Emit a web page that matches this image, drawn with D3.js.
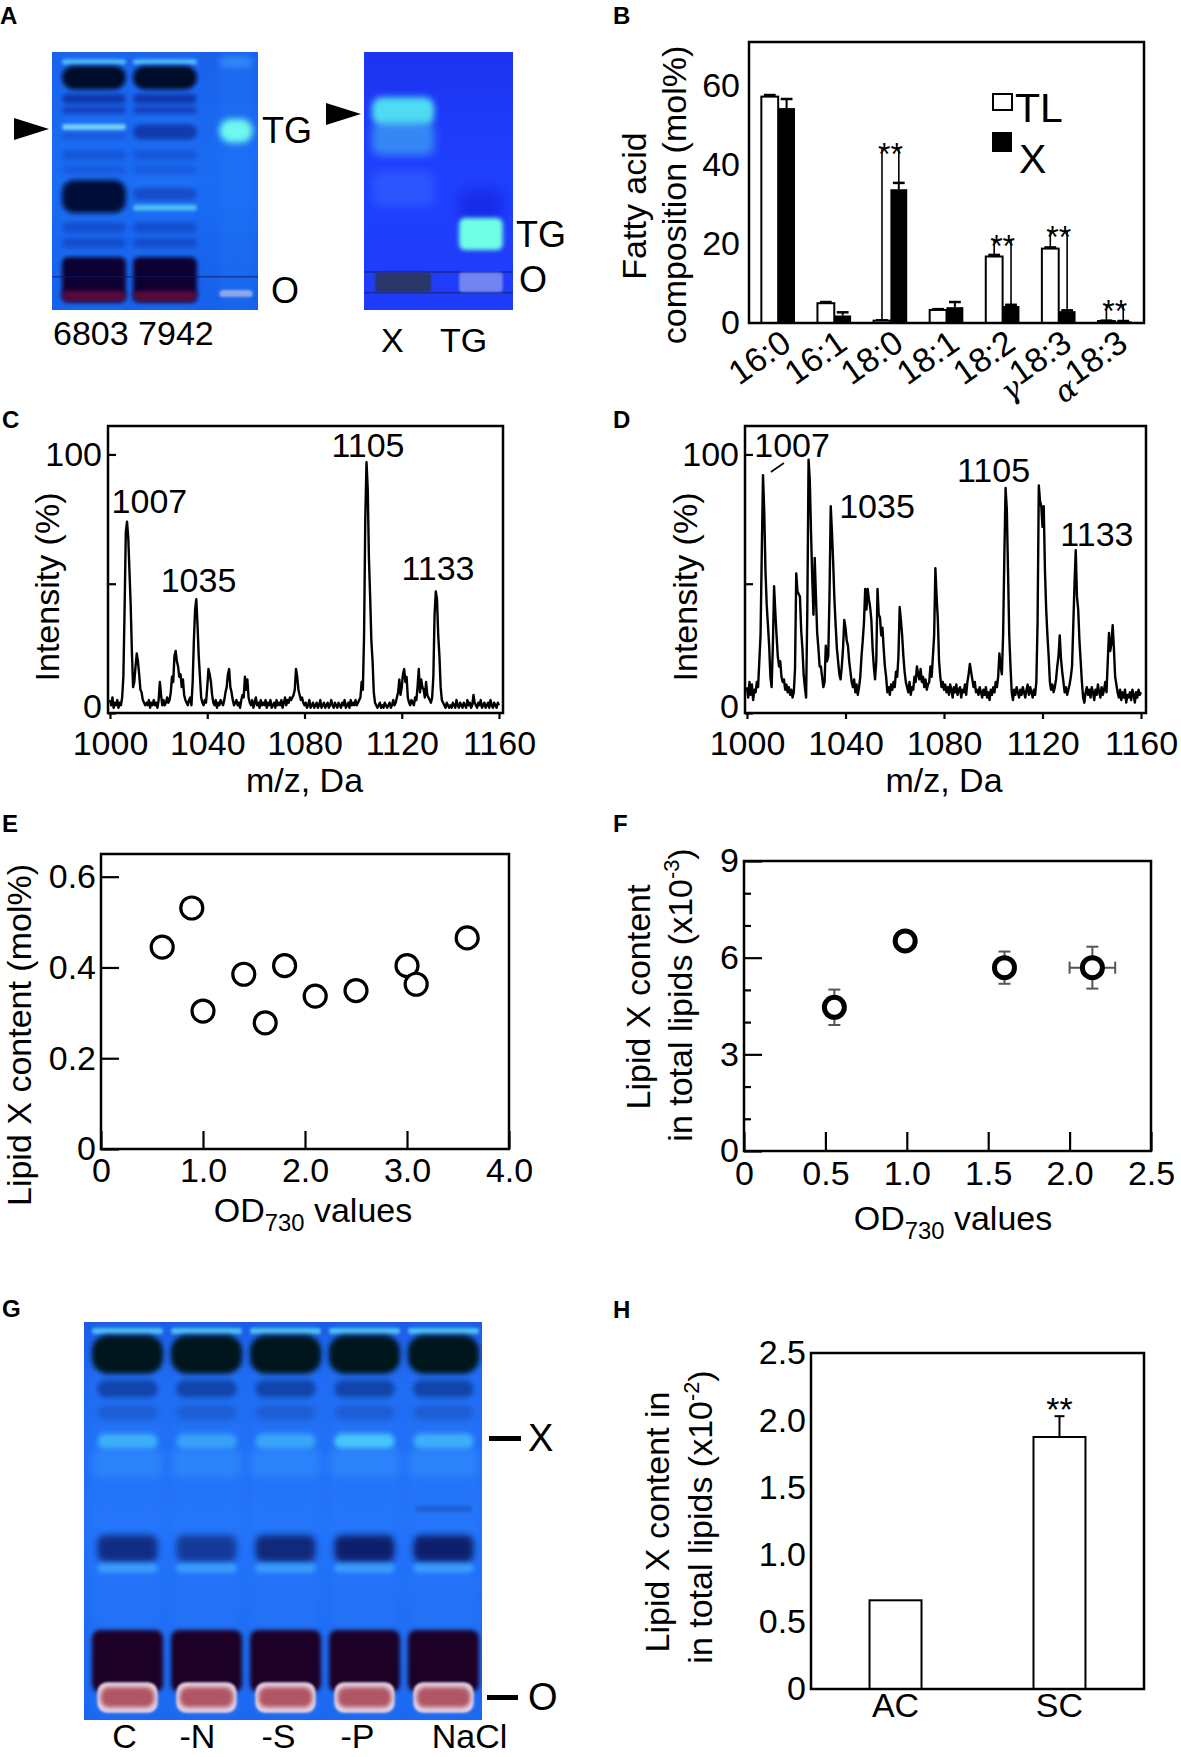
<!DOCTYPE html>
<html>
<head>
<meta charset="utf-8">
<script src="https://cdn.jsdelivr.net/npm/d3@7"></script>
<style>
  html, body { margin: 0; padding: 0; background: #fff; }
  svg text { font-family: "Liberation Sans", Arial, Helvetica, sans-serif; fill: #000; }
</style>
</head>
<body>
<svg id="fig" width="1181" height="1757"></svg>
<script>
// ---------- data ----------

// B: fatty acid composition (mol%)
const faClasses = ['16:0', '16:1', '18:0', '18:1', '18:2', 'γ18:3', 'α18:3'];
const faTL = [57.2, 5.0, 0.6, 3.3, 16.8, 18.8, 0.5];
const faTLerr = [0.4, 0.3, 0.1, 0.2, 0.4, 0.3, 0.1];
const faX = [54.3, 1.9, 33.8, 4.0, 4.3, 3.0, 0.4];
const faXerr = [2.3, 0.8, 1.6, 1.3, 0.3, 0.2, 0.1];
const faStarAt = [null, null, 44.5, null, 21.3, 23.5, 4.8];
const faYTicks = [0, 20, 40, 60];

// C, D: MALDI spectra, intensity (%) every 0.5 Da from 1000 to 1160
const mzStart = 1000, mzStep = 0.5;
const mzTicks = [1000, 1040, 1080, 1120, 1160];
const specC = [
  5,3,6,2,4,3,5,2,4,3, 6,14,40,70,74,68,55,42,24,10,
  12,18,23,20,15,9,8,5,4,3, 4,3,5,2,4,3,5,3,4,2,
  5,12,7,3,5,3,4,6,4,5, 8,14,12,22,24,20,18,14,15,10,
  13,7,5,4,3,5,6,3,12,28, 40,44,34,22,14,6,4,3,5,4,
  10,17,15,12,7,4,3,5,2,4, 3,5,4,3,5,8,10,15,17,10,
  8,5,3,4,5,3,4,2,5,7, 6,14,9,13,6,4,3,5,2,4,
  6,3,4,2,5,3,4,3,5,2, 4,3,5,2,3,4,2,5,3,4,
  3,5,2,4,6,3,5,4,6,5, 6,7,9,17,14,9,7,5,6,4,
  3,4,2,3,5,2,3,4,2,3, 4,2,3,5,2,3,4,2,3,4,
  2,3,5,3,2,4,3,2,4,3, 2,4,3,5,2,3,4,2,5,3,
  4,3,5,3,4,5,6,12,9,30, 75,97,87,60,45,28,20,8,4,3,
  2,3,4,2,3,2,4,3,2,3, 4,2,3,5,3,4,6,8,13,7,
  10,15,17,12,14,6,4,3,5,4, 3,6,5,10,17,8,13,10,9,6,
  12,7,6,5,4,6,14,38,47,44, 30,22,10,5,4,3,2,4,3,2,
  3,2,4,3,2,5,3,2,4,3, 2,4,3,2,5,3,4,2,3,7,
  4,3,2,4,3,5,2,3,4,2, 3,4,2,5,3,2,4,3,2,4,
  3
];
const specD = [
  10,6,12,7,11,5,9,8,12,10, 20,30,62,92,78,55,42,34,26,14,
  10,26,49,39,30,22,18,20,14,12, 13,9,11,8,10,7,9,6,8,17,
  54,47,46,45,32,25,15,10,6,40, 98,90,70,52,38,60,45,31,25,18,
  18,14,10,12,26,20,22,45,80,70, 58,44,34,25,20,15,13,18,25,36,
  33,28,26,20,16,12,10,13,8,11, 7,10,14,22,28,35,48,40,48,44,
  41,36,25,18,13,20,48,38,37,30, 33,25,18,14,8,10,7,11,9,12,
  10,16,14,22,41,36,30,22,16,12, 10,8,12,7,10,9,14,12,18,15,
  13,17,12,14,10,13,9,11,12,18, 14,22,30,56,45,36,20,14,10,12,
  9,11,8,10,7,11,9,6,10,8, 11,7,9,10,6,9,8,11,7,12,
  15,19,16,13,10,12,8,9,7,10, 8,6,9,7,10,6,8,5,9,7,
  10,8,12,10,14,23,18,15,30,60, 87,79,55,30,18,8,5,9,7,10,
  8,6,9,7,10,8,6,9,11,7, 10,8,6,9,7,12,35,88,82,80,
  72,80,55,40,30,22,12,9,11,8, 10,13,18,22,30,21,16,12,8,10,
  7,9,11,14,18,34,50,63,45,40, 28,20,12,6,4,8,10,7,9,6,
  10,8,5,9,7,11,8,6,10,7, 9,12,8,20,31,24,27,34,25,14,
  11,8,6,9,5,8,6,9,4,7, 6,8,5,9,7,4,8,6,9,7,
  8
];
// peak labels: text, label centre (m/z), label baseline (intensity)
const peakLabelsC = [['1007', 1016.2, 77.3], ['1035', 1036.4, 46.8], ['1105', 1106.1, 99.0], ['1133', 1134.9, 51.4]];
const peakLabelsD = [['1007', 1018.3, 99.0], ['1035', 1052.8, 75.4], ['1105', 1100.1, 89.3], ['1133', 1142.1, 64.6]];

// E: lipid X content vs OD730
const odE = [0.60, 0.89, 1.00, 1.40, 1.61, 1.80, 2.10, 2.50, 3.00, 3.09, 3.59];
const lipidE = [0.445, 0.531, 0.304, 0.385, 0.278, 0.404, 0.337, 0.349, 0.404, 0.363, 0.465];

// F: lipid X in total lipids (x10^-3) vs OD730
const odF = [0.555, 0.99, 1.60, 2.14];
const odFerr = [0, 0, 0, 0.14];
const lipidF = [4.46, 6.52, 5.69, 5.69];
const lipidFerr = [0.55, 0, 0.5, 0.65];

// G: stress conditions
const gelGLanes = ['C', '-N', '-S', '-P', 'NaCl'];

// H: air vs solid culture (x10^-2)
const cultures = ['AC', 'SC'];
const lipidH = [0.66, 1.875];
const lipidHerr = [0, 0.155];

// TLC plates: band rows given as fraction of plate height
const gelALanes = ['6803', '7942', 'TG'];
const gelAWidth = [1, 1, 0.52];
const gelABands = [
  { lanes: 'all', top: 0.0, bottom: 1.0, color: '#2b86ff', op: 0.16, blur: 5 },
  { lanes: [2], top: 0.02, bottom: 0.06, color: '#4aa8ff', op: 0.5, blur: 3 },
  { lanes: [0, 1], top: 0.028, bottom: 0.048, color: '#5fd4ff', op: 0.75, blur: 1.5 },
  { lanes: [0, 1], top: 0.054, bottom: 0.145, color: '#050a2c', op: 1, blur: 2, rx: 12 },
  { lanes: [0, 1], top: 0.163, bottom: 0.2, color: '#0a2a98', op: 0.8, blur: 2 },
  { lanes: [0, 1], top: 0.21, bottom: 0.24, color: '#0b32aa', op: 0.7, blur: 2 },
  { lanes: [0], top: 0.279, bottom: 0.302, color: '#80e2f2', op: 0.85, blur: 1.8 },
  { lanes: [0], top: 0.314, bottom: 0.34, color: '#1444c4', op: 0.5, blur: 2 },
  { lanes: [1], top: 0.28, bottom: 0.34, color: '#0a2a98', op: 0.75, blur: 2 },
  { lanes: [0, 1], top: 0.38, bottom: 0.42, color: '#0e3cc0', op: 0.5, blur: 2.5 },
  { lanes: [0, 1], top: 0.44, bottom: 0.475, color: '#0e3cc0', op: 0.4, blur: 2.5 },
  { lanes: [0], top: 0.496, bottom: 0.624, color: '#050a38', op: 1, blur: 2.5, rx: 12 },
  { lanes: [1], top: 0.527, bottom: 0.574, color: '#0c2aa0', op: 0.5, blur: 2 },
  { lanes: [1], top: 0.592, bottom: 0.615, color: '#5ad0f0', op: 0.8, blur: 1.8 },
  { lanes: [0, 1], top: 0.66, bottom: 0.7, color: '#0b30b0', op: 0.55, blur: 2.5 },
  { lanes: [0, 1], top: 0.72, bottom: 0.76, color: '#0b30b0', op: 0.55, blur: 2.5 },
  { lanes: [0, 1], top: 0.795, bottom: 0.97, color: '#080630', op: 1, blur: 2, rx: 6 },
  { lanes: [0, 1], top: 0.925, bottom: 0.965, color: '#6a1040', op: 0.8, blur: 2 },
  { lanes: [2], top: 0.26, bottom: 0.352, color: '#6ef8f0', op: 1, blur: 3, rx: 14 },
  { lanes: [2], top: 0.922, bottom: 0.95, color: '#a8b8e8', op: 0.8, blur: 1 },
  { lanes: [0], across: true, top: 0.868, bottom: 0.874, color: '#0a1a70', op: 0.6, blur: 0.5 }
];
const gelXLanes = ['X', 'TG'];
const gelXWidth = [1, 0.7];
const gelXBands = [
  { lanes: [0], top: 0.175, bottom: 0.285, color: '#4fdcf2', op: 1, blur: 3, rx: 10 },
  { lanes: [0], top: 0.27, bottom: 0.40, color: '#3fb0f2', op: 0.65, blur: 4 },
  { lanes: [0], top: 0.46, bottom: 0.6, color: '#3a70ff', op: 0.45, blur: 5 },
  { lanes: [1], top: 0.53, bottom: 0.66, color: '#1018d0', op: 0.45, blur: 6 },
  { lanes: [1], top: 0.643, bottom: 0.767, color: '#70ffe6', op: 1, blur: 2, rx: 6 },
  { lanes: [0], across: true, top: 0.85, bottom: 0.856, color: '#142078', op: 0.7, blur: 0.5 },
  { lanes: [0], across: true, top: 0.93, bottom: 0.936, color: '#142078', op: 0.7, blur: 0.5 },
  { lanes: [0], top: 0.855, bottom: 0.93, color: '#2a3468', op: 1, blur: 1, w: 0.9, rx: 3 },
  { lanes: [1], top: 0.855, bottom: 0.93, color: '#8c9cf0', op: 0.75, blur: 1, rx: 3 }
];
const gelGBands = [
  { lanes: 'all', top: 0, bottom: 1, color: '#3a90ff', op: 0.15, blur: 6 },
  { lanes: 'all', top: 0.015, bottom: 0.03, color: '#5ee4f0', op: 0.7, blur: 1.5 },
  { lanes: 'all', top: 0.033, bottom: 0.13, color: '#03161a', op: 1, blur: 2.5, rx: 16 },
  { lanes: 'all', top: 0.146, bottom: 0.19, color: '#0c3a98', op: 0.8, blur: 2.5, w: 0.85 },
  { lanes: 'all', top: 0.21, bottom: 0.246, color: '#1848b0', op: 0.5, blur: 3, w: 0.85 },
  { lanes: 'all', top: 0.281, bottom: 0.318, color: '#4cd0fa', op: [0.65, 0.5, 0.55, 0.9, 0.65], blur: 2.5, w: 0.85 },
  { lanes: 'all', top: 0.318, bottom: 0.39, color: '#3aa0ff', op: 0.35, blur: 4 },
  { lanes: [4], top: 0.462, bottom: 0.477, color: '#1a50b8', op: 0.6, blur: 1.5, w: 0.8 },
  { lanes: 'all', top: 0.535, bottom: 0.603, color: '#0a1f66', op: [0.8, 0.65, 0.85, 0.95, 0.95], blur: 3, w: 0.85 },
  { lanes: 'all', top: 0.606, bottom: 0.63, color: '#4ab8ff', op: 0.6, blur: 2, w: 0.85 },
  { lanes: 'all', top: 0.774, bottom: 0.93, color: '#1c0626', op: 1, blur: 2, rx: 8 },
  { lanes: 'all', top: 0.905, bottom: 0.982, color: '#e4d2e2', op: 1, blur: 1.2, w: 0.85, rx: 10 },
  { lanes: 'all', top: 0.918, bottom: 0.968, color: '#a8404e', op: 0.85, blur: 2, w: 0.75 }
];

// ---------- helpers ----------
const svg = d3.select('#fig');
svg.append('rect').attr('width', 1181).attr('height', 1757).attr('fill', '#fff');
const defs = svg.append('defs');
const FONT = '"Liberation Sans", Arial, Helvetica, sans-serif';
const FS = 34;

const made = {};
function blur(sd) {
  if (!sd) return null;
  const id = 'blur' + String(sd).replace('.', '_');
  if (!made[id]) {
    defs.append('filter').attr('id', id)
      .attr('x', '-50%').attr('y', '-100%').attr('width', '200%').attr('height', '300%')
      .append('feGaussianBlur').attr('stdDeviation', sd);
    made[id] = true;
  }
  return `url(#${id})`;
}

function vGrad(id, stops) {
  const lg = defs.append('linearGradient').attr('id', id)
    .attr('x1', 0).attr('y1', 0).attr('x2', 0).attr('y2', 1);
  stops.forEach(([o, c]) => lg.append('stop').attr('offset', o).attr('stop-color', c));
  return `url(#${id})`;
}

function styleAxis(sel, fs = FS) {
  sel.attr('font-family', FONT).attr('font-size', fs);
  sel.select('.domain').remove();
  sel.selectAll('.tick line').attr('stroke', '#000').attr('stroke-width', 2.2);
  sel.selectAll('.tick text').attr('fill', '#000');
  return sel;
}

function letter(t, x, y) {
  svg.append('text').attr('x', x).attr('y', y)
    .attr('font-weight', 'bold').attr('font-size', 24).text(t);
}

function box(x0, y0, x1, y1) {
  svg.append('rect').attr('x', x0).attr('y', y0)
    .attr('width', x1 - x0).attr('height', y1 - y0)
    .attr('fill', 'none').attr('stroke', '#000').attr('stroke-width', 2.5);
}

function text(x, y, s, fs = FS, anchor = 'start') {
  return svg.append('text').attr('x', x).attr('y', y)
    .attr('font-size', fs).attr('text-anchor', anchor).text(s);
}

// rotated axis title; parts: [text, 'sup'|'sub'|undefined]
function vTitle(x, y, parts, fs = FS) {
  const t = svg.append('text').attr('font-size', fs).attr('text-anchor', 'middle')
    .attr('transform', `translate(${x},${y}) rotate(-90)`);
  let shift = 0;
  parts.forEach(([s, kind]) => {
    const sp = t.append('tspan').text(s);
    const want = kind === 'sup' ? -13 : kind === 'sub' ? 8 : 0;
    if (want !== shift) sp.attr('dy', want - shift);
    if (kind) sp.attr('font-size', fs * 0.64);
    shift = want;
  });
  return t;
}

function hTitle(x, y, parts, fs = FS) {
  const t = svg.append('text').attr('x', x).attr('y', y).attr('font-size', fs).attr('text-anchor', 'middle');
  let shift = 0;
  parts.forEach(([s, kind]) => {
    const sp = t.append('tspan').text(s);
    const want = kind === 'sup' ? -13 : kind === 'sub' ? 9 : 0;
    if (want !== shift) sp.attr('dy', want - shift);
    if (kind) sp.attr('font-size', fs * 0.7);
    shift = want;
  });
  return t;
}

function drawGel(cfg) {
  const w0 = cfg.x1 - cfg.x0, h0 = cfg.y1 - cfg.y0;
  const cid = cfg.id + '-clip';
  defs.append('clipPath').attr('id', cid).append('rect')
    .attr('x', cfg.x0).attr('y', cfg.y0).attr('width', w0).attr('height', h0);
  const g = svg.append('g').attr('clip-path', `url(#${cid})`);
  g.append('rect').attr('x', cfg.x0).attr('y', cfg.y0).attr('width', w0).attr('height', h0)
    .attr('fill', vGrad(cfg.id + '-bg', cfg.bg));
  const lx = d3.scaleBand().domain(d3.range(cfg.lanes.length))
    .range(cfg.laneRange).paddingInner(cfg.pi).paddingOuter(cfg.po);
  const ry = d3.scaleLinear().domain([0, 1]).range([cfg.y0, cfg.y1]);
  cfg.bands.forEach(b => {
    const lanes = b.lanes === 'all' ? d3.range(cfg.lanes.length) : b.lanes;
    lanes.forEach(li => {
      const w = b.across ? w0 : lx.bandwidth() * (cfg.laneWidth ? cfg.laneWidth[li] : 1) * (b.w || 1);
      const cx = b.across ? cfg.x0 + w0 / 2 : lx(li) + lx.bandwidth() / 2;
      const y = ry(b.top), h = ry(b.bottom) - ry(b.top);
      g.append('rect').attr('x', cx - w / 2).attr('y', y).attr('width', w).attr('height', h)
        .attr('rx', b.across ? 0 : Math.min(w / 2, h / 2, b.rx ?? 8))
        .attr('fill', b.color)
        .attr('opacity', Array.isArray(b.op) ? b.op[li] : b.op)
        .attr('filter', blur(b.blur));
    });
  });
  return lx;
}

function arrowHead(x, y) {
  svg.append('path').attr('d', `M${x - 35},${y - 11}L${x},${y}L${x - 35},${y + 11}Z`).attr('fill', '#000');
}

// ---------- A ----------
letter('A', 0, 24);
drawGel({ id: 'gelA', x0: 52, y0: 52, x1: 258, y1: 310, lanes: gelALanes, laneWidth: gelAWidth,
  laneRange: [62, 268], pi: 0.1, po: 0, bands: gelABands,
  bg: [[0, '#1a62ec'], [0.5, '#1b6cf4'], [1, '#1660ea']] });
drawGel({ id: 'gelX', x0: 364, y0: 52, x1: 513, y1: 310, lanes: gelXLanes, laneWidth: gelXWidth,
  laneRange: [372, 512], pi: 0.2, po: 0, bands: gelXBands,
  bg: [[0, '#1c34f0'], [0.5, '#2040ff'], [1, '#1e3cf8']] });
arrowHead(49, 129);
arrowHead(361, 114);
text(262, 143, 'TG', 36);
text(271, 303, 'O', 36);
text(516, 247, 'TG', 36);
text(519, 292, 'O', 36);
text(53, 345, gelALanes.slice(0, 2).join(' '));
text(381, 352, gelXLanes[0]);
text(440, 352, gelXLanes[1]);

// ---------- B ----------
letter('B', 613, 24);
{
  const x = d3.scaleBand().domain(faClasses).range([749, 1144]).paddingInner(0.4).paddingOuter(0.22);
  const s = d3.scaleBand().domain(['TL', 'X']).range([0, x.bandwidth()]);
  const y = d3.scaleLinear().domain([0, 71]).range([323, 42]);
  const g = svg.append('g');
  const rows = faClasses.map((c, i) => ({ c, tl: faTL[i], tle: faTLerr[i], x: faX[i], xe: faXerr[i], star: faStarAt[i] }));

  // error bars (upward)
  const err = (cx, v, e, cap) => {
    g.append('line').attr('x1', cx).attr('x2', cx).attr('y1', y(v)).attr('y2', y(v + e))
      .attr('stroke', '#000').attr('stroke-width', 2);
    g.append('line').attr('x1', cx - cap / 2).attr('x2', cx + cap / 2).attr('y1', y(v + e)).attr('y2', y(v + e))
      .attr('stroke', '#000').attr('stroke-width', 2.5);
  };
  rows.forEach(r => {
    err(x(r.c) + s('TL') + s.bandwidth() / 2, r.tl, r.tle, s.bandwidth() * 0.7);
    err(x(r.c) + s('X') + s.bandwidth() / 2, r.x, r.xe, s.bandwidth() * 0.7);
  });
  g.selectAll('rect.tl').data(rows).join('rect')
    .attr('x', d => x(d.c) + s('TL')).attr('width', s.bandwidth())
    .attr('y', d => y(d.tl)).attr('height', d => y(0) - y(d.tl))
    .attr('fill', '#fff').attr('stroke', '#000').attr('stroke-width', 2);
  g.selectAll('rect.x').data(rows).enter().append('rect')
    .attr('x', d => x(d.c) + s('X')).attr('width', s.bandwidth())
    .attr('y', d => y(d.x)).attr('height', d => y(0) - y(d.x))
    .attr('fill', '#000');

  // significance
  rows.filter(r => r.star !== null).forEach(r => {
    const c1 = x(r.c) + s('TL') + s.bandwidth() / 2;
    const c2 = x(r.c) + s('X') + s.bandwidth() / 2;
    g.append('line').attr('x1', c1).attr('x2', c1).attr('y1', y(r.tl + r.tle)).attr('y2', y(r.star))
      .attr('stroke', '#000').attr('stroke-width', 1.6);
    g.append('line').attr('x1', c2).attr('x2', c2).attr('y1', y(r.x + r.xe)).attr('y2', y(r.star))
      .attr('stroke', '#000').attr('stroke-width', 1.6);
    g.append('text').attr('x', (c1 + c2) / 2).attr('y', y(r.star) + 18)
      .attr('text-anchor', 'middle').attr('font-size', 32).text('**');
  });

  styleAxis(svg.append('g').attr('transform', 'translate(749,0)')
    .call(d3.axisLeft(y).tickValues(faYTicks).tickSize(0).tickPadding(9)));
  box(749, 42, 1144, 323);

  faClasses.forEach(c => {
    const t = svg.append('text').attr('font-size', FS).attr('text-anchor', 'end')
      .attr('transform', `translate(${x(c) + x.bandwidth() / 2 + 15},348) rotate(-35)`);
    const greek = c.match(/^([γα])(.*)$/);
    if (greek) {
      t.append('tspan').attr('font-family', '"DejaVu Serif", serif').attr('font-style', 'italic')
        .attr('font-size', 30).attr('dy', 8).text(greek[1]);
      t.append('tspan').attr('dy', -8).text(greek[2]);
    } else t.text(c);
  });

  // legend
  svg.append('rect').attr('x', 993).attr('y', 94).attr('width', 19).attr('height', 16)
    .attr('fill', '#fff').attr('stroke', '#000').attr('stroke-width', 2);
  text(1015, 122, 'TL', 41);
  svg.append('rect').attr('x', 992).attr('y', 132).attr('width', 20).attr('height', 20).attr('fill', '#000');
  text(1019, 173, 'X', 41);

  vTitle(646, 206, [['Fatty acid']]);
  vTitle(686, 195, [['composition (mol%)']]);
}

// ---------- C, D ----------
function spectrum(f, values, labels, leader) {
  const x = d3.scaleLinear().domain([1000, 1160]).range([f.rx0, f.rx1]);
  const y = d3.scaleLinear().domain([0, 111]).range([f.yb, f.yt]);
  const pts = values.map((v, i) => [mzStart + i * mzStep, v]);
  svg.append('path').datum(pts)
    .attr('d', d3.line().x(d => x(d[0])).y(d => y(d[1])))
    .attr('fill', 'none').attr('stroke', '#000').attr('stroke-width', 2.4).attr('stroke-linejoin', 'round');
  box(f.x0, f.yt, f.x1, f.yb);
  styleAxis(svg.append('g').attr('transform', `translate(0,${f.yb})`)
    .call(d3.axisBottom(x).tickValues(mzTicks).tickSize(6).tickPadding(12).tickFormat(d3.format('d'))));
  const ya = styleAxis(svg.append('g').attr('transform', `translate(${f.x0},0)`)
    .call(d3.axisLeft(y).tickValues([0, 50, 100]).tickSizeInner(-8).tickSizeOuter(0).tickPadding(6)
      .tickFormat(d => d === 50 ? '' : d)));
  ya.selectAll('.tick text').filter(d => d === 0).attr('dy', '0.12em');
  labels.forEach(([s, mz, v]) => text(x(mz), y(v), s, FS, 'middle'));
  if (leader) {
    svg.append('line').attr('x1', x(leader[0])).attr('y1', y(leader[1]))
      .attr('x2', x(leader[2])).attr('y2', y(leader[3]))
      .attr('stroke', '#000').attr('stroke-width', 1.6);
  }
  vTitle(f.titleX, 587, [['Intensity (%)']]);
  text((f.rx0 + f.rx1) / 2, 792, 'm/z, Da', FS, 'middle');
}

letter('C', 2, 428);
spectrum({ x0: 108, x1: 503, yt: 426, yb: 713, rx0: 110, rx1: 499, titleX: 59 }, specC, peakLabelsC);
letter('D', 613, 428);
spectrum({ x0: 745, x1: 1146, yt: 426, yb: 713, rx0: 747, rx1: 1141, titleX: 697 }, specD, peakLabelsD,
  [1009.7, 93.2, 1015.0, 96.7]);

// ---------- E ----------
letter('E', 2, 832);
{
  const x = d3.scaleLinear().domain([0, 4]).range([101, 509]);
  const y = d3.scaleLinear().domain([0, 0.65]).range([1149, 854]);
  const fmt = d => d === 0 ? '0' : d.toFixed(1);
  box(101, 854, 509, 1149);
  styleAxis(svg.append('g').attr('transform', 'translate(0,1149)')
    .call(d3.axisBottom(x).tickValues([0, 1, 2, 3, 4]).tickSizeInner(-18).tickSizeOuter(0).tickPadding(9).tickFormat(fmt)));
  styleAxis(svg.append('g').attr('transform', 'translate(101,0)')
    .call(d3.axisLeft(y).tickValues([0, 0.2, 0.4, 0.6]).tickSizeInner(-18).tickSizeOuter(0).tickPadding(5).tickFormat(fmt)));
  svg.append('g').selectAll('circle').data(odE.map((v, i) => [v, lipidE[i]])).join('circle')
    .attr('cx', d => x(d[0])).attr('cy', d => y(d[1])).attr('r', 11)
    .attr('fill', '#fff').attr('stroke', '#000').attr('stroke-width', 3.2);
  vTitle(31, 1035, [['Lipid X content (mol%)']]);
  hTitle(313, 1222, [['OD'], ['730', 'sub'], [' values']]);
}

// ---------- F ----------
letter('F', 613, 832);
{
  const x = d3.scaleLinear().domain([0, 2.5]).range([744, 1151]);
  const y = d3.scaleLinear().domain([0, 9]).range([1151, 861]);
  box(744, 861, 1151, 1151);
  styleAxis(svg.append('g').attr('transform', 'translate(0,1151)')
    .call(d3.axisBottom(x).tickValues([0, 0.5, 1, 1.5, 2, 2.5]).tickSizeInner(-19).tickSizeOuter(0).tickPadding(10)
      .tickFormat(d => d === 0 ? '0' : d.toFixed(1))));
  styleAxis(svg.append('g').attr('transform', 'translate(744,0)')
    .call(d3.axisLeft(y).tickValues([0, 3, 6, 9]).tickSizeInner(-18).tickSizeOuter(0).tickPadding(5)));
  styleAxis(svg.append('g').attr('transform', 'translate(744,0)')
    .call(d3.axisLeft(y).tickValues([1, 2, 4, 5, 7, 8]).tickSizeInner(-7).tickSizeOuter(0).tickFormat('')));
  const pts = odF.map((v, i) => ({ x: v, xe: odFerr[i], y: lipidF[i], ye: lipidFerr[i] }));
  const eg = svg.append('g').attr('stroke', '#555').attr('stroke-width', 2);
  pts.forEach(p => {
    if (p.ye) {
      eg.append('line').attr('x1', x(p.x)).attr('x2', x(p.x)).attr('y1', y(p.y - p.ye)).attr('y2', y(p.y + p.ye));
      [p.y - p.ye, p.y + p.ye].forEach(v => eg.append('line')
        .attr('x1', x(p.x) - 6).attr('x2', x(p.x) + 6).attr('y1', y(v)).attr('y2', y(v)));
    }
    if (p.xe) {
      eg.append('line').attr('x1', x(p.x - p.xe)).attr('x2', x(p.x + p.xe)).attr('y1', y(p.y)).attr('y2', y(p.y));
      [p.x - p.xe, p.x + p.xe].forEach(v => eg.append('line')
        .attr('x1', x(v)).attr('x2', x(v)).attr('y1', y(p.y) - 6).attr('y2', y(p.y) + 6));
    }
  });
  svg.append('g').selectAll('circle').data(pts).join('circle')
    .attr('cx', d => x(d.x)).attr('cy', d => y(d.y)).attr('r', 10)
    .attr('fill', '#fff').attr('stroke', '#000').attr('stroke-width', 5);
  vTitle(650, 997, [['Lipid X content']]);
  vTitle(692, 995, [['in total lipids (x10'], ['-3', 'sup'], [')']]);
  hTitle(953, 1230, [['OD'], ['730', 'sub'], [' values']]);
}

// ---------- G ----------
letter('G', 2, 1317);
{
  const lx = drawGel({ id: 'gelG', x0: 84, y0: 1322, x1: 482, y1: 1720, lanes: gelGLanes,
    laneRange: [88, 483], pi: 0.1, po: 0.05, bands: gelGBands,
    bg: [[0, '#1a5ae6'], [0.15, '#1e6af2'], [0.5, '#2272fa'], [1, '#1a66f0']] });
  const labelShift = [-3, -9, -7, -7, 26];
  gelGLanes.forEach((l, i) => text(lx(i) + lx.bandwidth() / 2 + labelShift[i], 1748, l, 34, 'middle'));
  svg.append('rect').attr('x', 489).attr('y', 1436).attr('width', 32).attr('height', 5).attr('fill', '#000');
  text(528, 1451, 'X', 38);
  svg.append('rect').attr('x', 487).attr('y', 1695).attr('width', 31).attr('height', 5).attr('fill', '#000');
  text(528, 1710, 'O', 38);
}

// ---------- H ----------
letter('H', 613, 1318);
{
  const x = d3.scaleBand().domain(cultures).range([811, 1144]).paddingInner(0.683).paddingOuter(0.357);
  const y = d3.scaleLinear().domain([0, 2.5]).range([1689, 1353]);
  const rows = cultures.map((c, i) => ({ c, v: lipidH[i], e: lipidHerr[i] }));
  rows.filter(r => r.e).forEach(r => {
    const cx = x(r.c) + x.bandwidth() / 2;
    svg.append('line').attr('x1', cx).attr('x2', cx).attr('y1', y(r.v)).attr('y2', y(r.v + r.e))
      .attr('stroke', '#000').attr('stroke-width', 2);
    svg.append('line').attr('x1', cx - 5).attr('x2', cx + 5).attr('y1', y(r.v + r.e)).attr('y2', y(r.v + r.e))
      .attr('stroke', '#000').attr('stroke-width', 2);
    svg.append('text').attr('x', cx).attr('y', y(r.v + r.e) + 5)
      .attr('text-anchor', 'middle').attr('font-size', 34).text('**');
  });
  svg.append('g').selectAll('rect').data(rows).join('rect')
    .attr('x', d => x(d.c)).attr('width', x.bandwidth())
    .attr('y', d => y(d.v)).attr('height', d => y(0) - y(d.v))
    .attr('fill', '#fff').attr('stroke', '#000').attr('stroke-width', 2);
  box(811, 1353, 1144, 1689);
  styleAxis(svg.append('g').attr('transform', 'translate(811,0)')
    .call(d3.axisLeft(y).tickValues([0, 0.5, 1, 1.5, 2, 2.5]).tickSize(0).tickPadding(5)
      .tickFormat(d => d === 0 ? '0' : d.toFixed(1))));
  styleAxis(svg.append('g').attr('transform', 'translate(0,1689)')
    .call(d3.axisBottom(x).tickSize(0).tickPadding(4)));
  vTitle(669, 1522, [['Lipid X content in']]);
  vTitle(712, 1517, [['in total lipids (x10'], ['-2', 'sup'], [')']]);
}
</script>
</body>
</html>
